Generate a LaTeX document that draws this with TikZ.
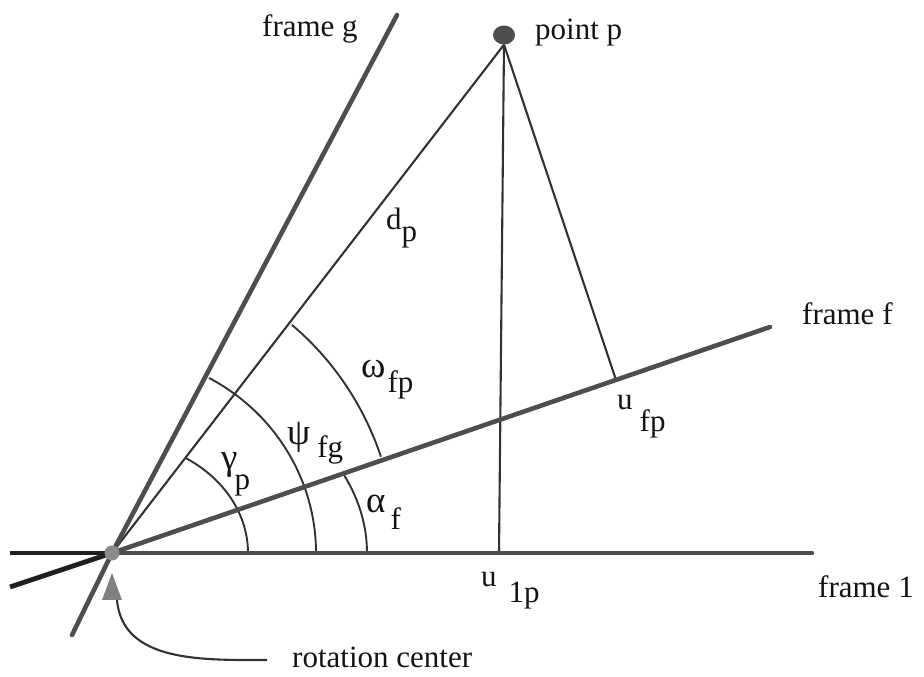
\documentclass[tikz,border=0pt]{standalone}
\usepackage{fontspec}
\setmainfont{Liberation Serif}
\usetikzlibrary{calc}
\usetikzlibrary{shapes.geometric}

\definecolor{framegray}{RGB}{78,78,78}
\definecolor{linegray}{RGB}{50,50,50}
\definecolor{textgray}{RGB}{20,20,20}

\newcommand{\grk}[1]{{\fontsize{37}{40}\selectfont #1}}

\begin{document}
\begin{tikzpicture}[x=1pt, y=1pt,
    frameline/.style={line width=4.6pt, color=framegray, line cap=round},
    stubline/.style={line width=4.8pt, color=black!88},
    thinline/.style={line width=2.1pt, color=linegray},
    anglearc/.style={line width=1.9pt, color=linegray},
    lbl/.style={inner sep=0pt, anchor=base west, text=textgray, font=\fontsize{31}{36}\selectfont}]

    \useasboundingbox (0,0) rectangle (924,677);

    \coordinate (o) at (112,124);
    \coordinate (f1end) at (812,124);
    \coordinate (f1stub) at (10,124);
    \coordinate (ffend) at (770,350);
    \coordinate (ffstub) at (10,90);
    \coordinate (fgend) at (397,662);
    \coordinate (fgstub) at (72,42);
    \coordinate (u1p) at (499,124);
    \coordinate (ufp) at (616,297);
    \coordinate (rcend) at (267,17);
    \coordinate (tribase) at (117,77);

    \node [ellipse, fill=framegray, minimum width=22pt, minimum height=19pt, inner sep=0pt] (p) at (504,642) {};

    \draw [stubline] (f1stub) -- (o);
    \draw [stubline] (ffstub) -- (o);

    \draw [thinline] (o) -- (p.south);
    \draw [thinline] (p.south) -- (u1p);
    \draw [thinline] (p.south) -- (ufp);

    \draw [anglearc] (o) ++(136,0) arc [start angle=0, end angle=57, x radius=136, y radius=113];
    \draw [anglearc] (o) ++(204,0) arc [start angle=0, end angle=61.6, x radius=204, y radius=199];
    \draw [anglearc] (o) ++(255,0) arc [start angle=0, end angle=24.5, x radius=255, y radius=188];
    \draw [anglearc] (o) ++(19.1:284.6 and 294.4) arc [start angle=19.1, end angle=50.8, x radius=284.6, y radius=294.4];

    \draw [frameline] (o) -- (f1end);
    \draw [frameline] (o) -- (ffend);
    \draw [frameline] (fgstub) -- (o) -- (fgend);

    \node [circle, fill=black!45, minimum size=15pt, inner sep=0pt] (rc) at (o) {};
    \fill [black!50] (112,104) -- (102,77) -- (122,77) -- cycle;
    \draw [thinline] (tribase) to [out=-85, in=180] (rcend);

    \node [lbl] (lblg) at (262,640) {frame g};
    \node [lbl] (lblp) at (535,637) {point p};
    \node [lbl] (lblf) at (802,352) {frame f};
    \node [lbl] (lbl1) at (818,79) {frame 1};
    \node [lbl] (lblrc) at (292,9) {rotation center};

    \node [lbl] (dp) at (386,447) {d\raisebox{-12pt}{p}};
    \node [lbl] (omegafp) at (361,299) {\grk{ω}\kern2pt\raisebox{-15pt}{fp}};
    \node [lbl] (psifg) at (287,232) {\grk{ψ}\kern7pt\raisebox{-13pt}{fg}};
    \node [lbl] (gammap) at (221,207) {\grk{γ}\kern-3pt\raisebox{-20pt}{p}};
    \node [lbl] (alphaf) at (366,164) {\grk{α}\kern5pt\raisebox{-17pt}{f}};
    \node [lbl] (ufplbl) at (617,267) {u\kern7pt\raisebox{-22pt}{fp}};
    \node [lbl] (u1plbl) at (481,90) {u\kern12pt\raisebox{-16pt}{1p}};
\end{tikzpicture}
\end{document}
